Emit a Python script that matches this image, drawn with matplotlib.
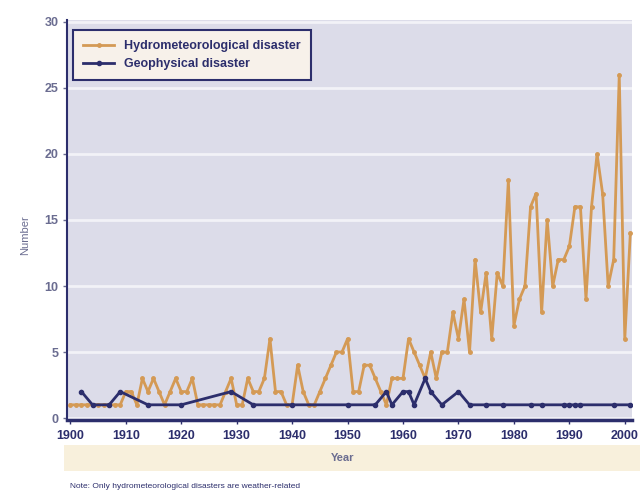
import matplotlib.pyplot as plt
from matplotlib.patches import Rectangle

# Hydrometeorological disasters, one value per year 1900-2001
hydro_years = list(range(1900, 2002))
hydro_counts = [
    1, 1, 1, 1, 1, 1, 1, 1, 1, 1,      # 1900s
    2, 2, 1, 3, 2, 3, 2, 1, 2, 3,      # 1910s
    2, 2, 3, 1, 1, 1, 1, 1, 2, 3,      # 1920s
    1, 1, 3, 2, 2, 3, 6, 2, 2, 1,      # 1930s
    1, 4, 2, 1, 1, 2, 3, 4, 5, 5,      # 1940s
    6, 2, 2, 4, 4, 3, 2, 1, 3, 3,      # 1950s
    3, 6, 5, 4, 3, 5, 3, 5, 5, 8,      # 1960s
    6, 9, 5, 12, 8, 11, 6, 11, 10, 18, # 1970s
    7, 9, 10, 16, 17, 8, 15, 10, 12, 12, # 1980s
    13, 16, 16, 9, 16, 20, 17, 10, 12, 26, # 1990s
    6, 14,                             # 2000s
]

# Geophysical disasters, only the years that appear on the line
geo_years = [1902, 1904, 1907, 1909, 1914, 1920, 1929, 1933, 1940, 1950,
             1955, 1957, 1958, 1960, 1961, 1962, 1964, 1965, 1967, 1970,
             1972, 1975, 1978, 1983, 1985, 1989, 1990, 1991, 1992, 1998, 2001]
geo_counts = [2, 1, 1, 2, 1, 1, 2, 1, 1, 1,
              1, 2, 1, 2, 2, 1, 3, 2, 1, 2,
              1, 1, 1, 1, 1, 1, 1, 1, 1, 1, 1]

x_ticks = list(range(1900, 2001, 10))
y_ticks = [0, 5, 10, 15, 20, 25, 30]

navy = '#2c2e6c'
orange = '#d49a55'
plt.rcParams['font.family'] = ['Liberation Sans', 'DejaVu Sans']

fig = plt.figure(figsize=(6.4, 4.92), dpi=100)
fig.patch.set_facecolor('white')

# beige band behind the axis title
fig.patches.append(Rectangle((0.1, 1 - 471 / 492), 0.9, 26 / 492,
                             transform=fig.transFigure, facecolor='#f8f0dc',
                             edgecolor='none', zorder=0))

ax = fig.add_axes([67 / 640, 1 - 420 / 492, 565 / 640, 400 / 492])
ax.set_facecolor('#dcdce9')

ax.plot(hydro_years, hydro_counts, color=orange, lw=2, marker='o', ms=2.5,
        label='Hydrometeorological disaster', zorder=3)
ax.plot(geo_years, geo_counts, color=navy, lw=2, marker='o', ms=3,
        label='Geophysical disaster', zorder=4)

ax.set_xlim(1899.4, 2001.3)
ax.set_ylim(-0.15, 30.15)
ax.set_xticks(x_ticks)
ax.set_yticks(y_ticks)
ax.yaxis.grid(True, color='#f2f2f7', lw=2)
ax.set_axisbelow(True)

for s in ['top', 'right']:
    ax.spines[s].set_visible(False)
ax.spines['left'].set_color(navy)
ax.spines['left'].set_linewidth(1.5)
ax.spines['bottom'].set_color(navy)
ax.spines['bottom'].set_linewidth(2.5)

ax.tick_params(axis='x', colors=navy, labelsize=9, length=3, width=1, pad=4)
ax.tick_params(axis='y', colors='#6a6c90', labelsize=9, length=3, width=1,
               pad=3)
for lab in ax.get_xticklabels():
    lab.set_fontweight('bold')
    lab.set_color(navy)
for lab in ax.get_yticklabels():
    lab.set_fontweight('bold')

fig.text(343 / 640, 1 - 458 / 492, 'Year', ha='center', va='center',
         fontsize=8, color='#6a6c90', fontweight='bold')
fig.text(25 / 640, 1 - 235 / 492, 'Number', ha='center', va='center',
         rotation=90, fontsize=8, color='#6a6c90')
fig.text(70 / 640, 1 - 487 / 492,
         'Note: Only hydrometeorological disasters are weather-related',
         ha='left', va='center', fontsize=6, color=navy)

leg = ax.legend(loc='upper left', bbox_to_anchor=(0.011, 0.975),
                borderaxespad=0, fancybox=False, fontsize=9,
                handlelength=2.5, borderpad=0.8, labelspacing=0.5)
leg.get_frame().set_facecolor('#f7f1ea')
leg.get_frame().set_alpha(1)
leg.get_frame().set_edgecolor(navy)
leg.get_frame().set_linewidth(1.5)
for t in leg.get_texts():
    t.set_color(navy)
    t.set_fontweight('bold')

fig.savefig('out.png', dpi=100)
